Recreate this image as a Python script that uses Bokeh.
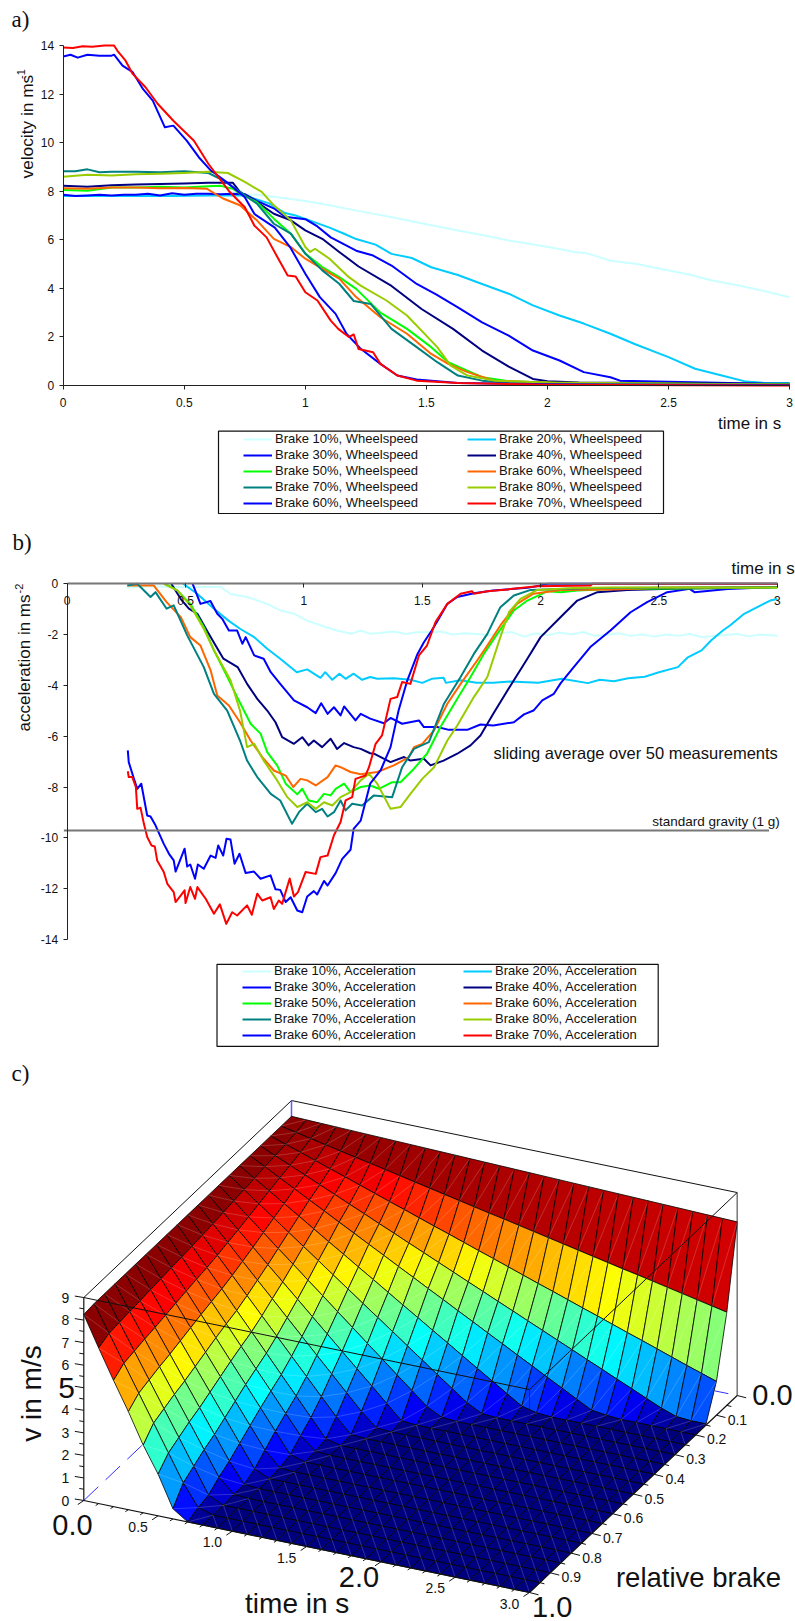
from bokeh.plotting import figure
from bokeh.layouts import column
from bokeh.models import Legend, LegendItem, FixedTicker
from bokeh.core.properties import value
from bokeh.embed import file_html
from bokeh.resources import INLINE
import math

FONT = "Liberation Sans"
SERIF = "Liberation Serif"

colors = ["#ccffff", "#00ccff", "#0000ff", "#000080", "#00ff00", "#ff6600", "#008080", "#99cc00", "#0000ff", "#ff0000"]
brake_names = ["Brake 10%", "Brake 20%", "Brake 30%", "Brake 40%", "Brake 50%", "Brake 60%", "Brake 70%", "Brake 80%", "Brake 60%", "Brake 70%"]

# ---- panel a: wheel speed
a10_t = [0,.1,.2,.3,.4,.5,.6,.7,.8,.885,1,1.1,1.21,1.32,1.42,1.52,1.63,1.74,1.84,1.95,2.05,2.11,2.16,2.26,2.37,2.47,2.58,2.68,2.79,2.89,3]
a10_v = [7.85,7.85,7.8,7.85,7.85,7.85,7.85,7.85,7.85,7.75,7.6,7.42,7.2,7.0,6.8,6.6,6.38,6.18,5.97,5.8,5.62,5.5,5.45,5.14,5.0,4.8,4.58,4.32,4.12,3.9,3.63]
a20_t = [0,.15,.3,.45,.6,.75,.85,.916,.96,1,1.1,1.16,1.21,1.29,1.356,1.44,1.52,1.63,1.73,1.84,1.94,2.05,2.15,2.26,2.36,2.5,2.61,2.72,2.82,2.89,3]
a20_v = [7.8,7.8,7.8,7.8,7.82,7.82,7.5,7.1,7.0,6.86,6.5,6.25,6.03,5.8,5.42,5.25,4.87,4.55,4.18,3.78,3.3,2.88,2.55,2.13,1.71,1.17,.69,.41,.16,.11,.1]
a30_t = [0,.05,.1,.15,.2,.25,.3,.35,.4,.45,.5,.55,.6,.65,.7,.75,.8,.874,.916,1,1.05,1.105,1.21,1.28,1.356,1.46,1.54,1.63,1.73,1.84,1.94,2.05,2.15,2.26,2.3,2.6,3]
a30_v = [7.85,7.8,7.82,7.85,7.82,7.85,7.85,7.9,7.82,7.92,7.85,7.9,7.9,7.88,7.9,7.88,7.6,7.27,6.95,6.85,6.55,6.1,5.55,5.35,4.94,4.18,3.75,3.22,2.6,2.05,1.44,1.03,.55,.34,.2,.13,.05]
a40_t = [0,.1,.2,.3,.4,.5,.6,.7,.73,.8,.87,.94,1,1.07,1.14,1.22,1.356,1.48,1.61,1.73,1.84,1.94,2,2.13,2.5,3]
a40_v = [8.22,8.18,8.25,8.28,8.3,8.32,8.35,8.35,7.97,7.55,7.07,6.8,6.39,6.04,5.5,4.9,4.1,3.15,2.33,1.44,.78,.27,.18,.12,.1,.07]
a50_t = [0,.1,.2,.3,.4,.5,.6,.65,.7,.73,.8,.87,.94,1,1.07,1.14,1.21,1.31,1.42,1.52,1.59,1.65,1.73,1.84,2.05,3]
a50_v = [8.05,8.02,8.15,8.15,8.18,8.15,8.2,8.22,8.1,7.9,7.55,6.87,6.25,5.43,4.88,4.46,3.98,3.0,2.33,1.58,.96,.69,.34,.18,.1,.05]
a60_t = [0,.1,.2,.3,.4,.5,.594,.66,.73,.8,.87,.94,1,1.07,1.14,1.21,1.31,1.42,1.52,1.59,1.67,1.78,2.05,3]
a60_v = [8.12,8.1,8.15,8.15,8.12,8.13,8.1,7.7,7.42,6.8,6.04,5.7,5.22,4.8,4.4,3.64,2.81,2.13,1.3,.89,.55,.2,.1,.03]
a70_t = [0,.05,.1,.15,.2,.3,.4,.5,.6,.66,.73,.8,.87,.94,1,1.07,1.14,1.2,1.27,1.356,1.46,1.545,1.63,1.73,1.84,3]
a70_v = [8.82,8.82,8.9,8.78,8.8,8.8,8.78,8.82,8.75,8.45,7.97,7.49,6.66,6.25,5.43,4.74,4.19,3.48,3.36,2.33,1.58,.96,.41,.2,.1,.03]
a80_t = [0,.1,.2,.3,.4,.5,.6,.68,.75,.82,.87,.94,1,1.02,1.04,1.1,1.18,1.23,1.335,1.42,1.545,1.6,1.67,1.78,2,3]
a80_v = [8.6,8.68,8.65,8.7,8.72,8.75,8.8,8.75,8.38,7.97,7.42,6.8,5.7,5.5,5.63,5.22,4.46,4.1,3.5,2.88,1.58,.82,.41,.2,.12,.03]
a60b_t = [0,.03,.06,.1,.15,.2,.21,.245,.287,.33,.37,.42,.455,.51,.56,.61,.685,.75,.79,.874,.937,1,1.06,1.125,1.17,1.23,1.31,1.38,1.46,1.63,2,3]
a60b_v = [13.55,13.62,13.5,13.62,13.58,13.58,13.62,13.17,12.9,12.2,11.73,10.63,10.7,10.08,9.4,8.85,8.3,7.75,7.06,6.5,5.7,4.6,3.64,2.95,2.13,1.5,.89,.41,.25,.1,.05,.02]
a70b_t = [0,.04,.08,.12,.17,.21,.224,.256,.287,.34,.39,.455,.54,.6,.685,.75,.79,.84,.885,.927,.96,1,1.05,1.105,1.136,1.18,1.2,1.22,1.28,1.31,1.38,1.46,1.63,2,3]
a70b_v = [13.92,13.9,13.97,13.95,14,14,13.78,13.4,12.83,12.28,11.6,10.9,10.08,9.12,8.0,7.34,6.58,6.1,5.28,4.53,4.49,3.84,3.5,2.67,2.33,2.0,2.1,1.5,1.37,.89,.41,.2,.1,.03,0]

# ---- panel b: acceleration
b10_t = [.25,.35,.45,.55,.65,.69,.76,.845,.9,.96,1.01,1.085,1.14,1.2,1.24,1.28,1.33,1.38,1.43,1.48,1.53,1.58,1.63,1.68,1.73,1.78,1.83,1.88,1.93,1.98,2.03,2.08,2.13,2.18,2.23,2.28,2.33,2.38,2.43,2.48,2.53,2.58,2.63,2.68,2.73,2.78,2.83,2.88,2.93,3]
b10_v = [-.15,-.1,-.13,-.13,-.13,-.4,-.52,-.79,-1.05,-1.18,-1.44,-1.68,-1.84,-1.97,-1.84,-1.97,-1.93,-1.88,-1.98,-1.9,-1.92,-1.88,-2.0,-1.95,-1.98,-2.03,-1.95,-1.9,-2.08,-1.95,-2.02,-1.92,-2.0,-1.9,-2.05,-2.02,-1.95,-2.05,-2.0,-2.08,-2.0,-2.05,-1.98,-2.1,-2.05,-2.02,-1.98,-2.07,-2.0,-2.05]
b20_t = [.49,.55,.62,.68,.73,.79,.845,.9,.97,1.014,1.07,1.09,1.12,1.15,1.176,1.21,1.246,1.28,1.31,1.38,1.45,1.5,1.54,1.59,1.6,1.66,1.73,1.8,1.87,1.99,2.09,2.2,2.25,2.31,2.37,2.44,2.5,2.58,2.62,2.68,2.72,2.77,2.8,2.86,2.93,2.97,3]
b20_v = [0,-.4,-.98,-1.44,-1.77,-2.1,-2.56,-2.95,-3.48,-3.37,-3.7,-3.48,-3.78,-3.54,-3.74,-3.54,-3.78,-3.67,-3.74,-3.72,-3.78,-3.9,-3.74,-3.7,-3.9,-3.8,-3.9,-3.9,-3.85,-3.9,-3.74,-3.91,-3.78,-3.84,-3.72,-3.66,-3.48,-3.28,-2.91,-2.62,-2.23,-1.84,-1.64,-1.18,-.85,-.66,-.6]
b30_t = [.53,.563,.605,.634,.655,.683,.718,.74,.754,.79,.83,.86,.9,.958,1.014,1.05,1.073,1.1,1.127,1.155,1.17,1.218,1.24,1.28,1.338,1.366,1.415,1.486,1.507,1.563,1.613,1.69,1.746,1.8,1.887,1.93,1.97,2.007,2.056,2.085,2.14,2.21,2.295,2.38,2.45,2.535,2.63,2.65,2.79,3]
b30_v = [0,-.79,-.68,-1.18,-1.38,-1.84,-1.84,-2.36,-2.1,-2.82,-2.95,-3.48,-3.94,-4.59,-4.86,-5.09,-4.7,-5.12,-4.86,-5.18,-4.83,-5.38,-5.12,-5.31,-5.49,-5.28,-5.51,-5.38,-5.64,-5.64,-5.75,-5.75,-5.54,-5.58,-5.45,-5.14,-4.99,-4.59,-4.33,-3.91,-3.28,-2.49,-1.84,-1.12,-.72,-.33,-.2,-.33,-.2,-.13]
b40_t = [.44,.48,.514,.55,.59,.627,.66,.72,.76,.803,.845,.88,.908,.958,.993,1.02,1.042,1.077,1.113,1.14,1.17,1.21,1.24,1.28,1.296,1.366,1.423,1.45,1.507,1.535,1.59,1.648,1.704,1.746,1.8,1.86,1.944,2.0,2.085,2.155,2.24,2.366,2.51,3]
b40_v = [0,-.6,-.98,-1.18,-1.84,-2.43,-2.95,-3.28,-3.94,-4.53,-4.99,-5.45,-6.04,-6.3,-6.04,-6.36,-6.17,-6.43,-6.1,-6.5,-6.27,-6.43,-6.5,-6.67,-6.69,-7.02,-6.82,-6.96,-6.89,-7.15,-6.96,-6.69,-6.36,-5.97,-5.12,-4.2,-2.95,-2.1,-1.31,-.66,-.33,-.24,-.2,-.13]
b50_t = [.415,.465,.52,.577,.62,.676,.718,.775,.817,.845,.887,.923,.972,.993,1.02,1.056,1.085,1.113,1.134,1.17,1.197,1.24,1.28,1.317,1.373,1.408,1.465,1.52,1.577,1.648,1.704,1.76,1.817,1.887,1.944,2.03,2.085,2.155,2.3,3]
b50_v = [0,-.26,-.79,-1.7,-2.62,-3.65,-4.46,-5.51,-5.9,-6.63,-7.15,-7.87,-8.29,-8.07,-8.53,-8.6,-8.27,-8.33,-8.07,-7.87,-8.2,-8.0,-7.94,-8.07,-7.81,-7.81,-7.28,-6.69,-5.64,-4.53,-3.67,-2.76,-1.97,-1.05,-.66,-.29,-.33,-.26,-.2,-.15]
b60_t = [.254,.366,.42,.48,.52,.563,.606,.634,.683,.73,.775,.824,.873,.923,.955,.986,1.014,1.05,1.1,1.134,1.155,1.197,1.24,1.31,1.38,1.444,1.465,1.5,1.55,1.606,1.662,1.732,1.775,1.83,1.9,1.97,2.085,2.31,2.5,3]
b60_v = [-.07,-.07,-.72,-1.31,-2.1,-2.43,-3.41,-4.4,-4.79,-5.45,-6.17,-6.82,-7.35,-7.55,-8.0,-7.68,-7.74,-7.94,-7.61,-7.15,-7.22,-7.41,-7.5,-7.41,-7.15,-6.82,-6.43,-6.3,-5.77,-4.72,-3.94,-3.02,-2.43,-1.64,-.79,-.39,-.24,-.22,-.16,-.13]
b70_t = [.254,.296,.352,.373,.42,.45,.507,.577,.62,.676,.73,.76,.803,.86,.9,.95,.979,1.014,1.05,1.077,1.1,1.127,1.155,1.176,1.204,1.246,1.296,1.373,1.415,1.465,1.528,1.592,1.662,1.718,1.775,1.83,1.887,1.958,2.085,2.225,3]
b70_v = [-.07,0,-.52,-.33,-.98,-.85,-2.03,-3.28,-4.33,-4.99,-6.17,-6.96,-7.61,-8.27,-8.53,-9.45,-8.99,-8.66,-8.99,-8.86,-9.16,-8.99,-8.53,-8.92,-8.66,-8.73,-8.33,-8.4,-7.22,-6.5,-6.23,-4.72,-3.67,-2.76,-1.97,-.92,-.46,-.24,-.2,-.17,-.13]
b80_t = [.408,.465,.52,.577,.62,.69,.73,.76,.79,.83,.887,.93,.972,1.014,1.05,1.085,1.12,1.155,1.197,1.24,1.275,1.31,1.366,1.408,1.45,1.5,1.55,1.606,1.648,1.718,1.775,1.83,1.866,1.915,1.986,2.14,2.3,3]
b80_v = [0,-.26,-.85,-1.77,-2.62,-3.8,-4.99,-6.43,-6.3,-6.96,-7.74,-8.4,-8.79,-8.6,-8.86,-8.6,-8.73,-8.4,-8.2,-7.74,-7.48,-7.87,-8.86,-8.79,-8.27,-7.68,-7.22,-6.17,-5.58,-4.46,-3.67,-2.1,-1.12,-.59,-.24,-.17,-.15,-.15]
b60b_t = [.256,.26,.282,.296,.313,.338,.352,.373,.408,.43,.45,.458,.496,.507,.52,.54,.552,.577,.606,.627,.638,.659,.673,.69,.707,.728,.754,.789,.817,.859,.88,.9,.923,.944,.972,.993,1.014,1.042,1.056,1.085,1.1,1.134,1.162,1.197,1.21,1.24,1.28,1.324,1.366,1.4,1.437,1.48,1.507,1.54,1.57,1.606,1.648,1.718,1.8,1.944,2.0,2.03,3]
b60b_v = [-6.56,-7.02,-7.68,-8.07,-7.87,-9.12,-9.16,-9.51,-10.24,-10.63,-10.89,-11.33,-10.43,-11.13,-11.05,-11.61,-11.05,-11.22,-10.7,-10.79,-10.3,-10.7,-10.04,-10.07,-11.02,-10.63,-11.39,-11.33,-11.61,-11.48,-12.03,-12.05,-12.53,-12.34,-12.86,-12.93,-12.31,-12.1,-12.23,-11.7,-11.88,-11.39,-10.83,-10.47,-9.65,-9.32,-7.87,-7.35,-6.43,-4.99,-3.8,-2.76,-2.3,-1.84,-1.38,-.79,-.52,-.37,-.26,-.16,-.07,0,0]
b70b_t = [.256,.26,.275,.29,.296,.31,.324,.338,.356,.37,.38,.408,.423,.45,.458,.48,.496,.5,.52,.54,.55,.585,.62,.645,.672,.697,.718,.76,.78,.803,.824,.859,.873,.894,.908,.94,.958,.975,1.007,1.05,1.07,1.1,1.127,1.155,1.176,1.204,1.218,1.26,1.275,1.303,1.33,1.366,1.394,1.415,1.45,1.486,1.52,1.556,1.606,1.662,1.71,1.718,1.775,1.86,1.986,2.21,2.22,3]
b70b_v = [-7.38,-7.61,-7.61,-8.0,-8.86,-8.82,-9.45,-9.97,-10.3,-10.34,-10.89,-11.35,-11.81,-12.14,-12.53,-12.27,-12.07,-12.57,-11.94,-12.4,-11.94,-12.4,-12.99,-12.62,-13.39,-12.93,-13.06,-12.66,-13.03,-12.2,-12.47,-12.34,-12.8,-12.47,-12.6,-11.6,-12.31,-12.14,-11.35,-11.42,-10.76,-10.7,-9.9,-9.38,-8.53,-8.4,-7.68,-7.55,-7.22,-6.3,-5.97,-4.53,-4.46,-3.87,-3.94,-2.82,-2.43,-1.51,-.79,-.39,-.29,-.39,-.29,-.22,-.1,-.07,0,0]
standard_gravity = -9.71

# ---- panel c: v(t, brake), brake step 0.05, time step 0.1; rows stop once v is 0
surface_rows = [
 [8.3,8.28,8.26,8.24,8.22,8.2,8.18,8.16,8.14,8.12,8.1,8.08,8.06,8.04,8.02,8.0,7.98,7.96,7.94,7.92,7.9,7.88,7.86,7.84,7.82,7.8,7.78,7.76,7.74,7.72,7.7],
 [8.3,8.16,8.02,7.88,7.74,7.6,7.47,7.33,7.19,7.05,6.91,6.77,6.63,6.49,6.35,6.22,6.08,5.94,5.8,5.66,5.52,5.38,5.24,5.1,4.97,4.83,4.69,4.55,4.41,4.27,4.13],
 [8.3,8.07,7.85,7.62,7.39,7.17,6.94,6.71,6.48,6.26,6.03,5.8,5.58,5.35,5.12,4.9,4.67,4.44,4.21,3.99,3.76,3.53,3.31,3.08,2.85,2.63,2.4,2.17,1.94,1.72,1.5],
 [8.3,8.0,7.71,7.42,7.12,6.83,6.53,6.24,5.94,5.65,5.35,5.06,4.76,4.47,4.17,3.88,3.58,3.29,2.99,2.7,2.4,2.11,1.81,1.52,1.22,.93,.63,.34,.1,.05,.05],
 [8.3,7.95,7.59,7.24,6.88,6.53,6.17,5.82,5.46,5.11,4.75,4.4,4.04,3.69,3.33,2.98,2.62,2.27,1.91,1.56,1.2,.85,.49,.14,.05],
 [8.3,7.87,7.45,7.02,6.6,6.17,5.74,5.32,4.89,4.47,4.04,3.61,3.19,2.76,2.34,1.91,1.48,1.06,.63,.21,.05],
 [8.3,7.81,7.31,6.82,6.32,5.83,5.34,4.84,4.35,3.85,3.36,2.87,2.37,1.88,1.38,.89,.4,.05],
 [8.3,7.74,7.17,6.61,6.04,5.48,4.91,4.35,3.78,3.22,2.65,2.09,1.52,.96,.39,.05],
 [8.3,7.67,7.03,6.4,5.76,5.13,4.5,3.86,3.23,2.59,1.96,1.33,.69,.06],
 [8.3,7.6,6.91,6.21,5.51,4.82,4.12,3.42,2.72,2.03,1.33,.63,.05],
 [8.3,7.54,6.78,6.02,5.26,4.5,3.74,2.98,2.22,1.46,.7,.05],
 [8.3,7.49,6.67,5.86,5.04,4.23,3.42,2.6,1.79,.97,.16],
 [8.3,7.44,6.59,5.73,4.88,4.02,3.16,2.31,1.45,.6,.05],
 [8.3,7.4,6.5,5.6,4.7,3.8,2.9,2.0,1.1,.2],
 [8.3,7.35,6.4,5.45,4.5,3.55,2.6,1.65,.7,.05],
 [8.3,7.3,6.3,5.3,4.3,3.3,2.3,1.3,.3],
 [8.3,7.25,6.2,5.15,4.1,3.05,2.0,.95,.05],
 [8.3,7.21,6.12,5.03,3.94,2.85,1.76,.67,.05],
 [8.3,7.16,6.02,4.88,3.74,2.6,1.46,.32],
 [8.3,7.11,5.92,4.73,3.54,2.35,1.16,.2],
 [8.25,6.9,5.6,4.35,3.0,1.85,.45],
]
colour_top = 8.4
time_ticks = [0.5, 1.0, 1.5, 2.5, 3.0]
brake_ticks = [0.1,0.2,0.3,0.4,0.5,0.6,0.7,0.8,0.9]
v_ticks = [0,1,2,3,4,6,7,8,9]

TEXT = dict(text_font=value(FONT), text_color="#111111")

def make_panel(top, height, x0, xs, y0, ys):
    """Figure whose frame is the whole panel; x0/y0 are page pixels of the origin, xs/ys px per unit."""
    bottom = top + height
    p = figure(width=795, height=height, output_backend="svg", toolbar_location=None,
               x_range=((0 - x0) / xs, (795 - x0) / xs),
               y_range=((y0 - bottom) / ys, (y0 - top) / ys),
               min_border=0, min_border_left=0, min_border_right=0, min_border_top=0, min_border_bottom=0)
    p.grid.visible = False
    p.outline_line_color = None
    p.xaxis.fixed_location = 0
    p.yaxis.fixed_location = 0
    for ax in (p.xaxis[0], p.yaxis[0]):
        ax.major_label_text_font = FONT
        ax.major_label_text_font_size = "12px"
        ax.major_label_text_color = "#111111"
        ax.minor_tick_line_color = None
        ax.major_tick_in = 0
        ax.major_tick_out = 4
        ax.axis_line_color = "#222222"
        ax.major_tick_line_color = "#222222"
    return p, (lambda px: (px - x0) / xs), (lambda py: (y0 - py) / ys)

def ptext(p, x, y, s, size, align="left", base="middle", angle=0.0, font=None):
    kw = dict(TEXT)
    if font:
        kw["text_font"] = value(font)
    p.text(x=[x], y=[y], text=[s], text_font_size=value(size), text_align=align,
           text_baseline=base, angle=angle, **kw)

def add_series(p, series, suffix, box, legend_x, legend_y, label_width, X, Y):
    p.quad(left=[X(box[0])], right=[X(box[1])], top=[Y(box[2])], bottom=[Y(box[3])],
           fill_color="white", line_color="#111111", line_width=1.2)
    items = []
    for (ts, vs), c, name in zip(series, colors, brake_names):
        r = p.line(ts, vs, line_color=c, line_width=2, line_join="round")
        items.append(LegendItem(label=name + suffix, renderers=[r]))
    leg = Legend(items=items, orientation="horizontal", ncols=2, location=(legend_x, legend_y),
                 padding=0, margin=0, spacing=1, glyph_width=29, glyph_height=12, label_height=12,
                 label_standoff=3, label_width=label_width, border_line_color=None,
                 background_fill_alpha=0, label_text_font=FONT, label_text_font_size="13px",
                 label_text_color="#111111", label_text_line_height=1.0)
    p.add_layout(leg, "center")

# ---------- a ----------
pa, Xa, Ya = make_panel(0, 525, 62.7, 242.13, 385.0, 24.286)
pa.xaxis.bounds = (0, 3)
pa.yaxis.bounds = (0, 14)
pa.xaxis.ticker = FixedTicker(ticks=[0, .5, 1, 1.5, 2, 2.5, 3])
pa.yaxis.ticker = FixedTicker(ticks=[0, 2, 4, 6, 8, 10, 12, 14])
pa.xaxis.major_label_overrides = {0: "0", 1: "1", 2: "2", 3: "3"}
pa.xaxis.major_label_standoff = 8
add_series(pa, [(a10_t,a10_v),(a20_t,a20_v),(a30_t,a30_v),(a40_t,a40_v),(a50_t,a50_v),(a60_t,a60_v),(a70_t,a70_v),(a80_t,a80_v),(a60b_t,a60b_v),(a70b_t,a70b_v)],
           ", Wheelspeed", (218, 663, 430.7, 513), 243, 15, 191, Xa, Ya)
ptext(pa, Xa(717.5), Ya(423), "time in s", "17px")
ptext(pa, Xa(11), Ya(19), "a)", "23px", font=SERIF)
ptext(pa, Xa(26), Ya(178), "velocity in ms", "17.3px", angle=math.pi/2)
ptext(pa, Xa(20.5), Ya(78.5), "-1", "11px", angle=math.pi/2)

# ---------- b ----------
pb, Xb, Yb = make_panel(525, 530, 66.7, 236.7, 583.3, 25.4)
pb.xaxis.bounds = (0, 3)
pb.yaxis.bounds = (-14, 0)
pb.xaxis.ticker = FixedTicker(ticks=[0, .5, 1, 1.5, 2, 2.5, 3])
pb.yaxis.ticker = FixedTicker(ticks=[0, -2, -4, -6, -8, -10, -12, -14])
pb.xaxis.major_label_overrides = {0: "0", 1: "1", 2: "2", 3: "3"}
pb.yaxis.major_label_overrides = {0: "0", -2: "-2", -4: "-4", -6: "-6", -8: "-8", -10: "-10", -12: "-12", -14: "-14"}
pb.xaxis.major_label_standoff = 8
pb.xaxis.axis_line_color = "#777777"
pb.xaxis.axis_line_width = 2
add_series(pb, [(b10_t,b10_v),(b20_t,b20_v),(b30_t,b30_v),(b40_t,b40_v),(b50_t,b50_v),(b60_t,b60_v),(b70_t,b70_v),(b80_t,b80_v),(b60b_t,b60b_v),(b70b_t,b70b_v)],
           ", Acceleration", (216.5, 657.7, 963.8, 1045.9), 242, 13, 188, Xb, Yb)
pb.line([-0.014, 2.965], [standard_gravity, standard_gravity], line_color="#777777", line_width=2)
ptext(pb, Xb(731), Yb(568), "time in s", "17px")
ptext(pb, Xb(493), Yb(752), "sliding average over 50 measurements", "16.5px")
ptext(pb, Xb(651.7), Yb(821), "standard gravity (1 g)", "13.5px")
ptext(pb, Xb(12), Yb(542), "b)", "23px", font=SERIF)
ptext(pb, Xb(24), Yb(731), "acceleration in ms", "17px", angle=math.pi/2)
ptext(pb, Xb(18.5), Yb(593), "-2", "11px", angle=math.pi/2)

# ---------- c : isometric surface, projected through page pixels ----------
pc = figure(width=795, height=566, output_backend="svg", toolbar_location=None,
            x_range=(0, 795), y_range=(1621, 1055), min_border=0, min_border_left=0,
            min_border_right=0, min_border_top=0, min_border_bottom=0)
pc.axis.visible = False
pc.grid.visible = False
pc.outline_line_color = None

def proj(t, b, z):
    return 291 + t / 3 * 445.7 - b * 207.7, 1303 + t / 3 * 92 + b * 197 - z * 22.55

def jet(v):
    v = max(0.0, min(1.0, v))
    stops = [(0, 0, 0, .5), (.125, 0, 0, 1), (.375, 0, 1, 1), (.625, 1, 1, 0), (.875, 1, 0, 0), (1, .5, 0, 0)]
    for (a, r0, g0, b0), (e, r1, g1, b1) in zip(stops, stops[1:]):
        if v <= e:
            f = (v - a) / (e - a)
            return "#%02x%02x%02x" % (int(255 * (r0 + f * (r1 - r0))), int(255 * (g0 + f * (g1 - g0))), int(255 * (b0 + f * (b1 - b0))))
    return "#800000"

def seg(p, a, b, **kw):
    pa_ = proj(*a)
    pb_ = proj(*b)
    p.line([pa_[0], pb_[0]], [pa_[1], pb_[1]], **kw)

# behind the surface
BLK = dict(line_color="#111111", line_width=1)
seg(pc, (0, 1, 9), (0, 0, 9), **BLK)
seg(pc, (0, 0, 9), (3, 0, 9), **BLK)
seg(pc, (3, 0, 0), (3, 0, 9), line_color="#777777", line_width=1.5)
seg(pc, (0, 0, 0), (0, 0, 9), line_color="#5a5aff", line_width=1.5)
seg(pc, (0, 1, 0), (0, 0, 0), line_color="#3030ff", line_width=1, line_dash="20 10")
seg(pc, (2.85, 0, 0), (2.94, 0, 0), line_color="#3030ff", line_width=1)

grid = [row + [0.0] * (31 - len(row)) for row in surface_rows]
qx, qy, qc, dx, dy = [], [], [], [], []
for i in range(20):
    for j in range(30):
        b0, b1, t0, t1 = i * .05, (i + 1) * .05, j * .1, (j + 1) * .1
        z00, z01, z10, z11 = grid[i][j], grid[i][j + 1], grid[i + 1][j], grid[i + 1][j + 1]
        c = [proj(t0, b0, z00), proj(t1, b0, z01), proj(t1, b1, z11), proj(t0, b1, z10)]
        qx.append([q[0] for q in c])
        qy.append([q[1] for q in c])
        qc.append(jet(z00 / colour_top))
        if max(z00, z01, z10, z11) < .01:
            dx.append([c[0][0], c[2][0]]); dy.append([c[0][1], c[2][1]])
        else:
            dx.append([c[1][0], c[3][0]]); dy.append([c[1][1], c[3][1]])
pc.patches(qx, qy, fill_color=qc, line_color="#000000", line_width=0.8)
pc.multi_line(dx, dy, line_color="#ffffff", line_alpha=0.3, line_width=0.6)

# box edges in front of the surface
seg(pc, (0, 1, 9), (3, 1, 9), **BLK)
seg(pc, (3, 1, 9), (3, 0, 9), **BLK)
seg(pc, (3, 1, 0), (3, 1, 9), line_color="#111111", line_width=1, line_alpha=0.55)

# axes
seg(pc, (0, 1, 0), (3, 1, 0), line_color="#111111", line_width=1.2)
seg(pc, (3, 1, 0), (3, 0, 0), line_color="#111111", line_width=1.2)
seg(pc, (0, 1, 0), (0, 1, 9), line_color="#111111", line_width=1.2)
tx, ty = [], []
for k in range(31):
    x_, y_ = proj(k * .1, 1, 0)
    L = 1.0 if k % 5 == 0 else 0.5
    tx.append([x_, x_ - 6 * L]); ty.append([y_, y_ + 4 * L])
for k in range(21):
    x_, y_ = proj(3, k * .05, 0)
    L = 1.0 if k % 2 == 0 else 0.5
    tx.append([x_, x_ + 9 * L]); ty.append([y_, y_ + 2.3 * L])
for k in range(19):
    x_, y_ = proj(0, 1, k * .5)
    L = 1.0 if k % 2 == 0 else 0.5
    tx.append([x_, x_ - 9 * L]); ty.append([y_, y_ - 1.5 * L])
pc.multi_line(tx, ty, line_color="#111111", line_width=1)

def ctext(x, y, s, size):
    pc.text(x=[x], y=[y], text=[s], text_font_size=value(size), text_align="center",
            text_baseline="middle", **TEXT)

for tv in time_ticks:
    x_, y_ = proj(tv, 1, 0)
    ctext(x_ - 20, y_ + 11, "%.1f" % tv, "14px")
for bv in brake_ticks:
    x_, y_ = proj(3, bv, 0)
    ctext(x_ + 21, y_ + 4.5, "%.1f" % bv, "14px")
for zv in v_ticks:
    _, y_ = proj(0, 1, zv)
    ctext(65, y_, str(zv), "14px")
ctext(66, proj(0, 1, 5)[1], "5", "30px")
ctext(72, 1524, "0.0", "29px")
ctext(358.5, 1576, "2.0", "29px")
ctext(772, 1394, "0.0", "29px")
ctext(551.7, 1606, "1.0", "29px")
ctext(296.7, 1603, "time in s", "28px")
ctext(698, 1577, "relative brake", "27.5px")
pc.text(x=[31.4], y=[1393], text=["v in m/s"], text_font_size=value("28px"), text_align="center",
        text_baseline="middle", angle=math.pi/2, **TEXT)
pc.text(x=[11], y=[1073], text=["c)"], text_font_size=value("23px"), text_align="left",
        text_baseline="middle", text_font=value(SERIF), text_color="#111111")

layout = column(pa, pb, pc, spacing=0)
open("out.html", "w").write(file_html(layout, INLINE))
